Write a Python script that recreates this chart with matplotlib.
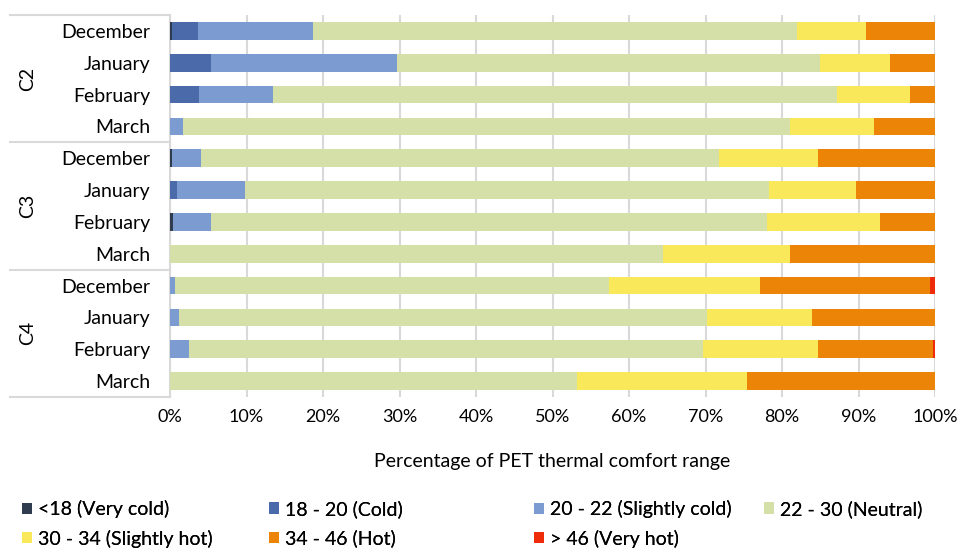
import numpy as np
import matplotlib
matplotlib.use('Agg')
import matplotlib.pyplot as plt

plt.rcParams['font.family'] = ['Lato', 'DejaVu Sans']

# categories (top to bottom)
groupes = ['C2', 'C3', 'C4']
mois = ['December', 'January', 'February', 'March']

# PET comfort ranges
classes = ['<18 (Very cold)', '18 - 20 (Cold)', '20 - 22 (Slightly cold)', '22 - 30 (Neutral)',
           '30 - 34 (Slightly hot)', '34 - 46 (Hot)', '> 46 (Very hot)']
couleurs = ['#2f3b4f', '#4a6aa9', '#7b9bd1', '#d5e0a9', '#f9e85a', '#ec8507', '#ee2c0a']

# percentages per class, rows = C2 Dec..Mar, C3 Dec..Mar, C4 Dec..Mar
tres_froid = [0.3, 0.0, 0.0, 0.0, 0.3, 0.0, 0.4, 0.0, 0.0, 0.0, 0.0, 0.0]
froid = [3.4, 5.4, 3.8, 0.0, 0.0, 0.9, 0.0, 0.0, 0.0, 0.0, 0.0, 0.0]
legerement_froid = [15.0, 24.3, 9.7, 1.7, 3.7, 8.9, 5.0, 0.0, 0.7, 1.2, 2.5, 0.0]
neutre = [63.3, 55.3, 73.7, 79.3, 67.8, 68.5, 72.6, 64.4, 56.7, 69.0, 67.2, 53.2]
legerement_chaud = [9.0, 9.1, 9.5, 11.0, 12.9, 11.4, 14.8, 16.6, 19.7, 13.7, 15.0, 22.2]
chaud = [9.0, 5.9, 3.3, 8.0, 15.3, 10.3, 7.2, 19.0, 22.2, 16.1, 15.0, 24.6]
tres_chaud = [0.0, 0.0, 0.0, 0.0, 0.0, 0.0, 0.0, 0.0, 0.7, 0.0, 0.3, 0.0]

series = [tres_froid, froid, legerement_froid, neutre, legerement_chaud, chaud, tres_chaud]

fig = plt.figure(figsize=(9.6, 5.49), dpi=100)
ax = fig.add_axes([170/960, 1-397/549, 765/960, 382/549])

n = len(groupes) * len(mois)
y = np.arange(n)
gauche = np.zeros(n)
barres = []
for vals, coul, lab in zip(series, couleurs, classes):
    vals = np.array(vals)
    b = ax.barh(y, vals, left=gauche, height=0.55, color=coul, label=lab, zorder=3)
    barres.append(b)
    gauche = gauche + vals

ax.set_xlim(0, 100)
ax.set_ylim(n - 0.5, -0.5)
ax.set_xticks(np.arange(0, 101, 10))
ax.set_xticklabels([f'{v}%' for v in range(0, 101, 10)], fontsize=13)
ax.set_yticks(y)
ax.set_yticklabels(mois * len(groupes), fontsize=14)
ax.tick_params(axis='both', length=0)
ax.tick_params(axis='x', pad=9)
ax.tick_params(axis='y', pad=14)
ax.grid(axis='x', color='#d9d9d9', linewidth=1.5, zorder=0)
for s in ax.spines.values():
    s.set_visible(False)

ax.set_xlabel('Percentage of PET thermal comfort range', fontsize=14, labelpad=20)

# boite des etiquettes a gauche
trans = ax.get_yaxis_transform()
x0 = (10 - 170) / 765
for k in range(len(groupes) + 1):
    yy = k * len(mois) - 0.5
    ax.plot([x0, 0], [yy, yy], color='#d9d9d9', lw=1.5, transform=trans, clip_on=False)
ax.plot([0, 0], [-0.5, n - 0.5], color='#d9d9d9', lw=1.5, transform=trans, clip_on=False)

for i, g in enumerate(groupes):
    yc = i * len(mois) + (len(mois) - 1) / 2
    ax.text((28 - 170) / 765, yc, g, rotation=90, transform=trans,
            ha='center', va='center', fontsize=14)

# legende : 4 colonnes, 2 lignes
colonnes = [[0, 4], [1, 5], [2, 6], [3]]
x_col = [22, 269, 534, 764]
for xc, idx in zip(x_col, colonnes):
    leg = fig.legend([barres[i] for i in idx], [classes[i] for i in idx],
                     loc='upper left', bbox_to_anchor=(xc/960, 1-500/549),
                     frameon=False, fontsize=14, handlelength=0.5, handleheight=0.5,
                     handletextpad=0.3, labelspacing=0.6, borderpad=0, borderaxespad=0)
    fig.add_artist(leg)

plt.savefig('out.png', dpi=100)
